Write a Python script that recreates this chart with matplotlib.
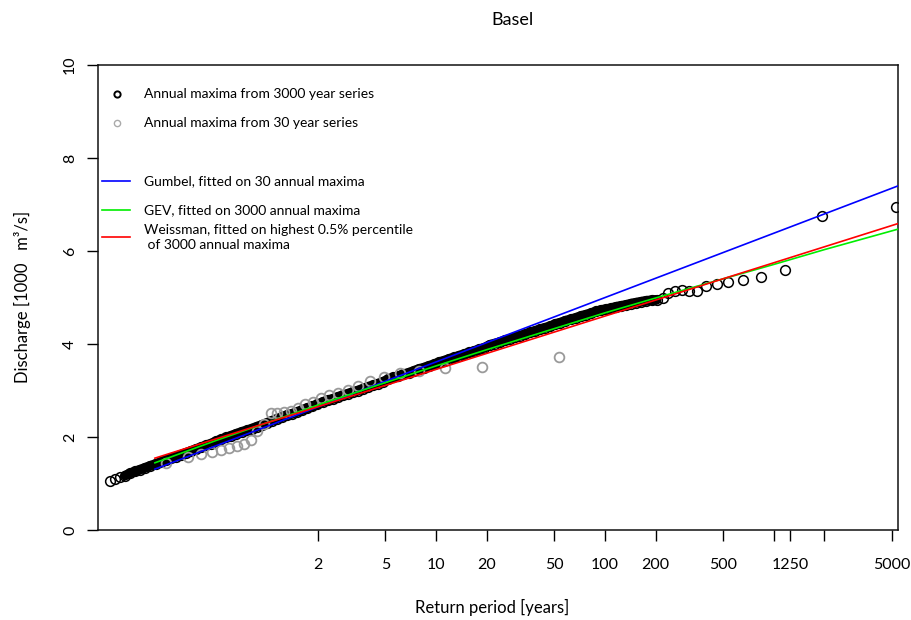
import matplotlib
matplotlib.use("Agg")
import matplotlib.pyplot as plt

plt.rcParams['font.family'] = ['Lato', 'DejaVu Sans']

# annual maxima of the 3000 year series (return period, discharge in 1000 m3/s)
T_3000 = [0.1164, 0.1247, 0.1337, 0.1432, 0.1535, 0.1644, 0.1762, 0.1888, 0.2023, 0.2168,
          0.2323, 0.2489, 0.2667, 0.2858, 0.3062, 0.3281, 0.3516, 0.3767, 0.4036, 0.4325,
          0.4634, 0.4966, 0.5321, 0.5702, 0.6109, 0.6546, 0.7015, 0.7516, 0.8054, 0.8630,
          0.9247, 0.9908, 1.062, 1.138, 1.219, 1.306, 1.400, 1.500, 1.607, 1.722,
          1.845, 1.977, 2.118, 2.270, 2.432, 2.606, 2.793, 2.992, 3.206, 3.436,
          3.681, 3.945, 4.227, 4.529, 4.853, 5.200, 5.572, 5.970, 6.397, 6.855,
          7.345, 7.870, 8.433, 9.036, 9.683, 10.38, 11.12, 11.91, 12.76, 13.68,
          14.66, 15.70, 16.83, 18.03, 19.32, 20.70, 22.18, 23.77, 25.47, 27.29,
          29.24, 31.33, 33.57, 35.97, 38.55, 41.30, 44.26, 47.42, 50.82, 54.45,
          58.34, 62.52, 66.99, 71.78, 76.91, 82.41, 88.31, 94.62, 101.4, 108.6,
          116.4, 124.7, 133.7, 143.2, 153.5, 164.4, 176.2, 188.8, 202.3,
          221.5, 237.0, 260.0, 286.0, 315.0, 351.0, 399.0, 460.0, 539.0, 657.0,
          840.0, 1170.0, 1925.0, 5300.0]
Q_3000 = [1.05, 1.09, 1.13, 1.17, 1.22, 1.26, 1.30, 1.34, 1.38, 1.42,
          1.46, 1.50, 1.54, 1.58, 1.62, 1.66, 1.70, 1.74, 1.78, 1.82,
          1.86, 1.91, 1.95, 1.99, 2.03, 2.07, 2.11, 2.14, 2.18, 2.22,
          2.26, 2.30, 2.35, 2.39, 2.43, 2.47, 2.50, 2.54, 2.58, 2.62,
          2.66, 2.70, 2.75, 2.79, 2.82, 2.86, 2.90, 2.93, 2.97, 3.00,
          3.04, 3.08, 3.11, 3.15, 3.19, 3.24, 3.28, 3.31, 3.35, 3.38,
          3.42, 3.46, 3.49, 3.53, 3.56, 3.61, 3.64, 3.68, 3.71, 3.75,
          3.78, 3.82, 3.85, 3.89, 3.92, 3.98, 4.01, 4.04, 4.08, 4.11,
          4.15, 4.18, 4.21, 4.25, 4.28, 4.32, 4.35, 4.38, 4.43, 4.46,
          4.50, 4.53, 4.56, 4.60, 4.63, 4.66, 4.70, 4.73, 4.75, 4.77,
          4.80, 4.82, 4.84, 4.87, 4.89, 4.91, 4.93, 4.94, 4.95,
          4.98, 5.09, 5.15, 5.16, 5.15, 5.13, 5.25, 5.29, 5.33, 5.38,
          5.45, 5.59, 6.75, 6.94]

# annual maxima of the 30 year series
T_30 = [0.251, 0.338, 0.406, 0.468, 0.530, 0.592, 0.656, 0.723, 0.795, 0.871,
        0.954, 1.044, 1.143, 1.253, 1.376, 1.514, 1.672, 1.853, 2.065, 2.316,
        2.618, 2.990, 3.460, 4.071, 4.900, 6.094, 7.955, 11.26, 18.80, 53.30]
Q_30 = [1.45, 1.58, 1.64, 1.68, 1.72, 1.76, 1.80, 1.86, 1.94, 2.12,
        2.28, 2.51, 2.52, 2.54, 2.56, 2.62, 2.71, 2.76, 2.83, 2.90,
        2.94, 3.01, 3.10, 3.21, 3.28, 3.37, 3.42, 3.48, 3.50, 3.73]

# fitted curves
gumbel_T = [0.215, 5458]
gumbel_Q = [1.31, 7.40]
gev_T = [0.215, 0.5, 1, 2, 5, 10, 20, 50, 100, 200, 500, 1000, 2000, 5458]
gev_Q = [1.445, 1.93, 2.31, 2.69, 3.17, 3.53, 3.88, 4.33, 4.67, 4.99, 5.40, 5.71, 6.03, 6.47]
weiss_T = [0.215, 5458]
weiss_Q = [1.545, 6.59]

tick_T = [2, 5, 10, 20, 50, 100, 200, 500, 1000, 1250, 2000, 5000]
tick_lab = ['2', '5', '10', '20', '50', '100', '200', '500', '', '1250', '', '5000']

fig = plt.figure(figsize=(9.12, 6.2), dpi=100)
ax = fig.add_axes([98 / 912, 1 - 530 / 620, 800 / 912, 465 / 620])

# the 3000 points overlap into a solid band; draw the dense part as a thick stroke too
ax.plot(T_3000[3:109], Q_3000[3:109], color='black', lw=7, solid_capstyle='round', zorder=2)
ax.plot(T_3000, Q_3000, 'o', ms=7, mfc='none', mec='black', mew=1.1, zorder=2)
ax.plot(T_30, Q_30, 'o', ms=7, mfc='none', mec='#9a9a9a', mew=1.3, zorder=3)
ax.plot(gumbel_T, gumbel_Q, color='#0000ff', lw=1.2, zorder=4)
ax.plot(gev_T, gev_Q, color='#00ee00', lw=1.2, zorder=4)
ax.plot(weiss_T, weiss_Q, color='#ff0000', lw=1.2, zorder=4)

ax.set_xscale('log')
ax.set_xlim(0.0989, 5458)
ax.set_ylim(0, 10)
ax.set_xticks(tick_T)
ax.set_xticklabels(tick_lab)
ax.xaxis.set_minor_locator(matplotlib.ticker.NullLocator())
ax.set_yticks([0, 2, 4, 6, 8, 10])
ax.set_yticklabels(['0', '2', '4', '6', '8', '10'], rotation=90, va='center')
ax.tick_params(direction='out', length=8, width=1.0, labelsize=11.5, color='black')
ax.tick_params(axis='x', pad=12)
ax.tick_params(axis='y', pad=7)
for s in ax.spines.values():
    s.set_linewidth(1.1)
    s.set_color('#111111')

# legend drawn R style (fixed spacing per entry)
tr = ax.transAxes
ax.plot([0.024], [0.9376], 'o', ms=4.5, mfc='none', mec='black', mew=1.4, transform=tr, clip_on=False)
ax.plot([0.024], [0.8753], 'o', ms=4.5, mfc='none', mec='#aaaaaa', mew=1.0, transform=tr, clip_on=False)
ax.plot([0.005, 0.04], [0.7505, 0.7505], color='#0000ff', lw=1.2, transform=tr)
ax.plot([0.005, 0.04], [0.6882, 0.6882], color='#00ee00', lw=1.2, transform=tr)
ax.plot([0.005, 0.04], [0.630, 0.630], color='#ff0000', lw=1.2, transform=tr)
leg_fs = 10
ax.text(0.0575, 0.9376, 'Annual maxima from 3000 year series', transform=tr, va='center', fontsize=leg_fs)
ax.text(0.0575, 0.8753, 'Annual maxima from 30 year series', transform=tr, va='center', fontsize=leg_fs)
ax.text(0.0575, 0.7505, 'Gumbel, fitted on 30 annual maxima', transform=tr, va='center', fontsize=leg_fs)
ax.text(0.0575, 0.6882, 'GEV, fitted on 3000 annual maxima', transform=tr, va='center', fontsize=leg_fs)
ax.text(0.0575, 0.628, 'Weissman, fitted on highest 0.5% percentile\n of 3000 annual maxima',
        transform=tr, va='center', fontsize=leg_fs, linespacing=1.3)

fig.text(513 / 912, 1 - 20 / 620, 'Basel', ha='center', va='center', fontsize=13)
fig.text(492 / 912, 1 - 607 / 620, 'Return period [years]', ha='center', va='center', fontsize=12)
fig.text(22 / 912, 1 - 297 / 620, 'Discharge [1000   m³/s]', ha='center', va='center',
         rotation=90, fontsize=12)

fig.savefig('out.png', dpi=100)
